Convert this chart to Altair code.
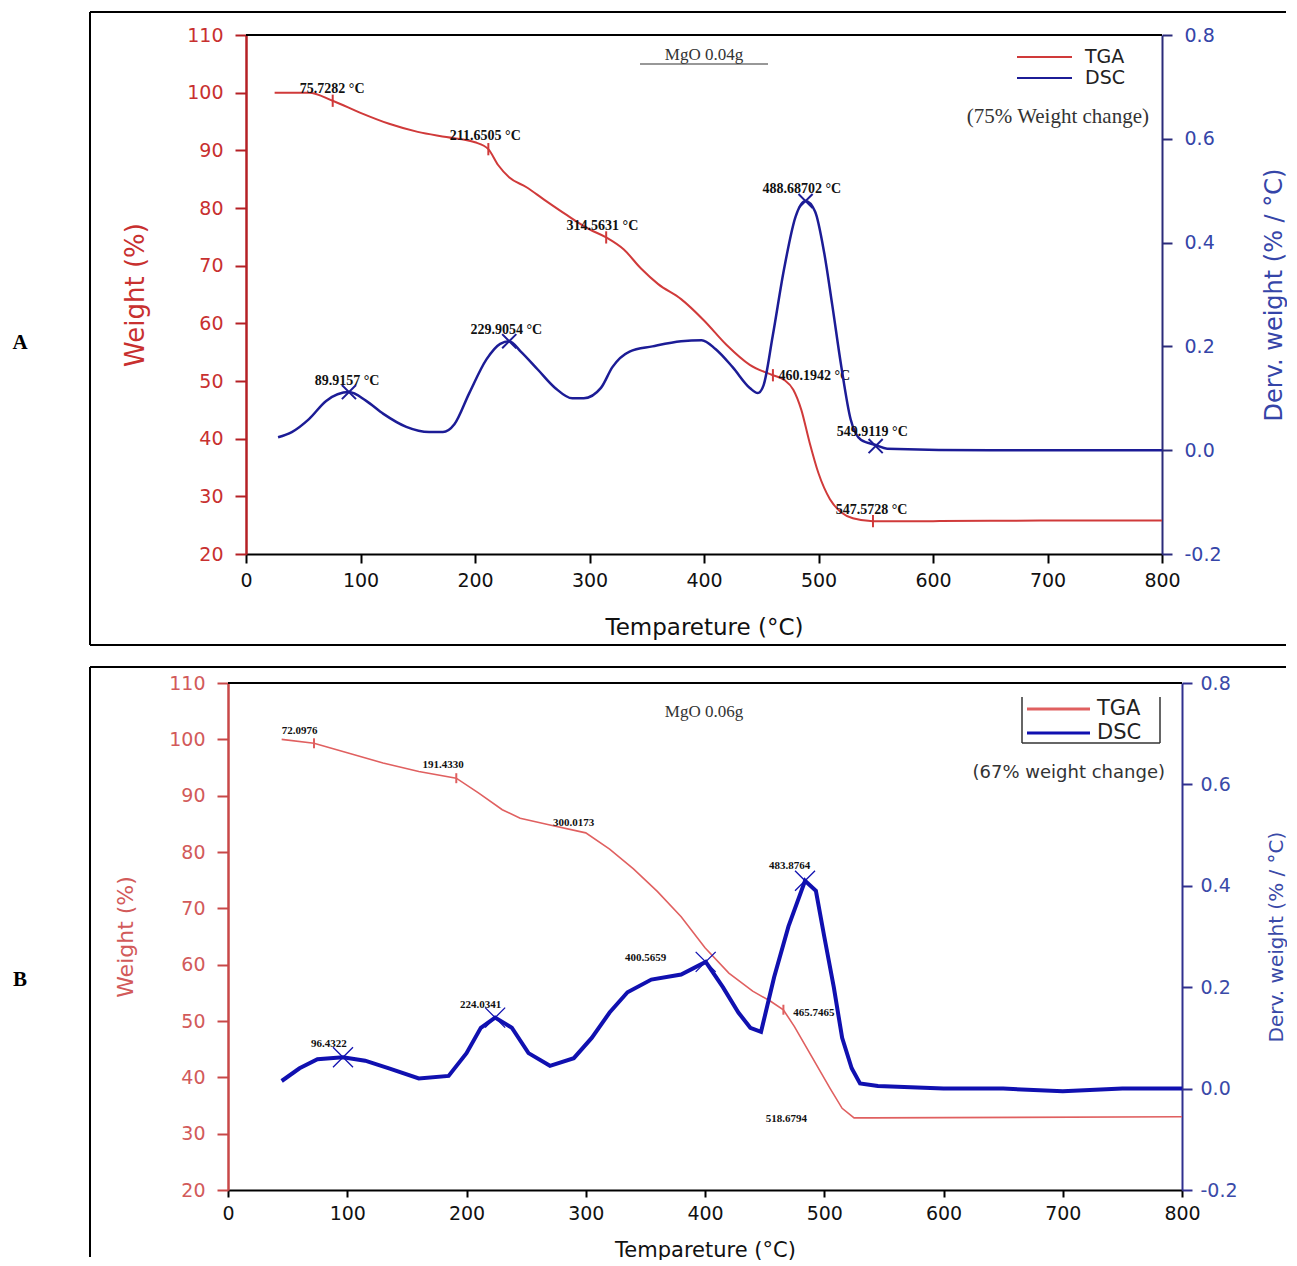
import altair as alt
import pandas as pd

# ---------------- Panel A : MgO 0.04 g ----------------
A_tga_T = [25, 55, 75.7, 100, 125, 150, 175, 200, 211.65, 220, 230, 245, 260, 280, 300, 314.56, 330, 345, 360, 380,
           400, 420, 440, 460.19, 470, 478, 485, 492, 500, 510, 520, 530, 547.57, 600, 700, 800]
A_tga_W = [100, 100, 98.6, 96.5, 94.6, 93.2, 92.3, 91.4, 90.2, 87.5, 85.3, 83.6, 81.5, 78.8, 76.3, 74.9, 72.8, 69.5, 66.8, 64.2,
           60.5, 56.2, 52.8, 51.0, 50.2, 48.5, 45.0, 39.5, 34.0, 29.5, 27.2, 26.2, 25.7, 25.7, 25.8, 25.8]
A_dsc_T = [28, 40, 55, 70, 89.9, 105, 120, 140, 160, 172, 182, 195, 210, 222, 229.9, 240, 255, 270, 285, 295,
           310, 320, 335, 355, 380, 398, 410, 425, 440, 447, 452, 460, 470, 480, 488.7, 497, 505, 512, 520, 528,
           537, 549.9, 560, 650, 800]
A_dsc_D = [0.025, 0.035, 0.06, 0.095, 0.112, 0.095, 0.07, 0.045, 0.035, 0.035, 0.05, 0.11, 0.175, 0.205, 0.21, 0.19, 0.155, 0.12, 0.1, 0.1,
           0.12, 0.16, 0.19, 0.2, 0.21, 0.212, 0.195, 0.16, 0.12, 0.11, 0.125, 0.22, 0.35, 0.45, 0.48, 0.46, 0.38, 0.28, 0.16, 0.06,
           0.02, 0.01, 0.003, 0.0, 0.0]
A_tga_mark_T = [75.7282, 211.6505, 314.5631, 460.1942, 547.5728]
A_tga_mark_W = [98.6, 90.2, 74.9, 51.0, 25.7]
A_dsc_mark_T = [89.9157, 229.9054, 488.68702, 549.9119]
A_dsc_mark_D = [0.112, 0.21, 0.48, 0.008]
A_tga_lab = ["75.7282 °C", "211.6505 °C", "314.5631 °C", "460.1942 °C", "547.5728 °C"]
A_tga_lab_T = [47, 178, 280, 465, 515]
A_tga_lab_W = [100.6, 92.5, 76.9, 50.9, 27.6]
A_dsc_lab = ["89.9157 °C", "229.9054 °C", "488.68702 °C", "549.9119 °C"]
A_dsc_lab_T = [60, 196, 451, 516]
A_dsc_lab_D = [0.133, 0.232, 0.503, 0.035]

# ---------------- Panel B : MgO 0.06 g ----------------
B_tga_T = [45, 72.1, 100, 130, 160, 191.4, 210, 230, 245, 270, 300, 320, 340, 360, 380, 400, 420, 440, 455, 465.7,
           475, 490, 505, 515, 525, 540, 800]
B_tga_W = [100, 99.3, 97.6, 95.8, 94.3, 93.1, 90.5, 87.5, 86, 84.8, 83.4, 80.5, 77, 73, 68.5, 63, 58.5, 55.3, 53.5, 52,
           49, 43.5, 38, 34.5, 32.8, 32.8, 33]
B_dsc_T = [45, 60, 75, 96.4, 115, 135, 160, 185, 200, 212, 224, 238, 252, 270, 290, 305, 320, 335, 355, 380,
           400.6, 415, 428, 438, 447, 458, 470, 483.9, 493, 500, 508, 515, 523, 530, 545, 600, 650, 700, 750, 800]
B_dsc_D = [0.015, 0.04, 0.058, 0.062, 0.055, 0.04, 0.02, 0.025, 0.07, 0.12, 0.14, 0.12, 0.07, 0.045, 0.06, 0.1, 0.15, 0.19, 0.215, 0.225,
           0.25, 0.2, 0.15, 0.12, 0.112, 0.22, 0.32, 0.41, 0.39, 0.3, 0.2, 0.1, 0.04, 0.01, 0.005, 0.0, 0.0, -0.005, 0.0, 0.0]
B_tga_mark_T = [72.0976, 191.4330, 465.7465]
B_tga_mark_W = [99.3, 93.1, 52.0]
B_dsc_mark_T = [96.4322, 224.0341, 400.5659, 483.8764]
B_dsc_mark_D = [0.062, 0.14, 0.25, 0.41]
B_tga_lab = ["72.0976", "191.4330", "300.0173", "465.7465", "518.6794"]
B_tga_lab_T = [45, 163, 272.5, 474, 451]
B_tga_lab_W = [101.5, 95.4, 85.1, 51.4, 32.6]
B_dsc_lab = ["96.4322", "224.0341", "400.5659", "483.8764"]
B_dsc_lab_T = [69.6, 194.5, 333, 453.7]
B_dsc_lab_D = [0.088, 0.165, 0.258, 0.439]

X_TICKS = [0, 100, 200, 300, 400, 500, 600, 700, 800]
W_TICKS = [20, 30, 40, 50, 60, 70, 80, 90, 100, 110]
D_TICKS = [-0.2, 0.0, 0.2, 0.4, 0.6, 0.8]

SANS = "DejaVu Sans"
SERIF = "Liberation Serif"
ONE = pd.DataFrame({"k": [0]})
TICK = "M0,-1L0,1"
CROSS = "M-1,-1L1,1M-1,1L1,-1"


def hrule(x1, x2, y, color="black", w=2):
    return alt.Chart(ONE).mark_rule(color=color, strokeWidth=w, clip=False).encode(
        x=alt.value(x1), x2=alt.value(x2), y=alt.value(y))


def vrule(x, y1, y2, color="black", w=2):
    return alt.Chart(ONE).mark_rule(color=color, strokeWidth=w, clip=False).encode(
        x=alt.value(x), y=alt.value(y1), y2=alt.value(y2))


def txt(text, x, y, size, font=SANS, align="left", weight="normal", color="black", angle=0):
    return alt.Chart(ONE).mark_text(text=text, fontSize=size, font=font, align=align, baseline="middle",
                                    fontWeight=weight, color=color, angle=angle, clip=False).encode(
        x=alt.value(x), y=alt.value(y))


def panel(p):
    X = alt.X("T:Q", scale=alt.Scale(domain=[0, 800], range=p["xrange"], nice=False, zero=False),
              axis=alt.Axis(values=X_TICKS, grid=False, domainColor="black", domainWidth=2, tickColor="black",
                            tickWidth=2, tickSize=p["xtick"], labelPadding=p["xpad"], labelFont=SANS,
                            labelFontSize=19, labelColor="#111111", labelFlush=False, labelOverlap=False,
                            title="Tempareture (°C)", titleFont=SANS, titleFontSize=p["xtitle_size"],
                            titleFontWeight="normal", titleColor="#111111", titleX=p["xtitle_x"],
                            titleY=p["xtitle_y"], titleBaseline="middle", titleAlign="center"))
    YW = alt.Y("W:Q", scale=alt.Scale(domain=[20, 110], nice=False, zero=False),
               axis=alt.Axis(orient="left", values=W_TICKS, grid=False, offset=p["loffset"],
                             domainColor=p["laxis"], domainWidth=2.5, tickColor=p["laxis"], tickWidth=2,
                             tickSize=11, labelPadding=p["lpad"], labelFont=SANS, labelFontSize=19,
                             labelColor=p["llab"], labelFlush=False, labelOverlap=False,
                             title="Weight (%)", titleFont=SANS, titleFontSize=p["ltitle_size"],
                             titleFontWeight="normal", titleColor=p["llab"], titleAngle=-90,
                             titleX=p["ltitle_x"], titleY=p["h"] / 2, titleBaseline="middle",
                             titleAlign="center"))
    YD = alt.Y("D:Q", scale=alt.Scale(domain=[-0.2, 0.8], nice=False, zero=False),
               axis=alt.Axis(orient="right", values=D_TICKS, grid=False,
                             labelExpr="replace(format(datum.value, '.1f'), '\u2212', '-')",
                             domainColor=p["raxis"], domainWidth=2, tickColor=p["raxis"], tickWidth=2,
                             tickSize=10, labelPadding=p["rpad"], labelFont=SANS, labelFontSize=19,
                             labelColor=p["rlab"], labelFlush=False, labelOverlap=False,
                             title="Derv. weight (% / °C)", titleFont=SANS, titleFontSize=p["rtitle_size"],
                             titleFontWeight="normal", titleColor=p["rlab"], titleAngle=-90,
                             titleX=p["rtitle_x"], titleY=p["h"] / 2, titleBaseline="middle",
                             titleAlign="center"))

    tga = pd.DataFrame({"T": p["tga_T"], "W": p["tga_W"]})
    dsc = pd.DataFrame({"T": p["dsc_T"], "D": p["dsc_D"]})
    tmk = pd.DataFrame({"T": p["tmk_T"], "W": p["tmk_W"]})
    dmk = pd.DataFrame({"T": p["dmk_T"], "D": p["dmk_D"]})
    tlb = pd.DataFrame({"T": p["tlb_T"], "W": p["tlb_W"], "label": p["tlb"]})
    dlb = pd.DataFrame({"T": p["dlb_T"], "D": p["dlb_D"], "label": p["dlb"]})

    tga_group = alt.layer(
        alt.Chart(tga).mark_line(color=p["tga_color"], strokeWidth=p["tga_w"], interpolate=p["interp"]).encode(x=X, y=YW),
        alt.Chart(tmk).mark_point(shape=TICK, size=p["tick_size"], stroke=p["tga_color"], strokeWidth=2,
                                  filled=False, opacity=1).encode(x=X, y=YW),
        alt.Chart(tlb).mark_text(font=SERIF, fontWeight="bold", fontSize=p["lab_size"], align="left",
                                 baseline="middle", color="#111111").encode(x=X, y=YW, text="label:N"),
    )
    dsc_group = alt.layer(
        alt.Chart(dsc).mark_line(color=p["dsc_color"], strokeWidth=p["dsc_w"], interpolate=p["interp"]).encode(x=X, y=YD),
        alt.Chart(dmk).mark_point(shape=CROSS, size=p["cross_size"], stroke=p["dsc_color"], strokeWidth=p["cross_w"],
                                  filled=False, opacity=1).encode(x=X, y=YD),
        alt.Chart(dlb).mark_text(font=SERIF, fontWeight="bold", fontSize=p["lab_size"], align="left",
                                 baseline="middle", color="#111111").encode(x=X, y=YD, text="label:N"),
    )
    return alt.layer(tga_group, dsc_group, *p["decor"]).resolve_scale(y="independent").properties(
        width=p["w"], height=p["h"])


A_decor = [
    alt.Chart(ONE).mark_rect(color="white", clip=False).encode(
        x=alt.value(-238), x2=alt.value(-237), y=alt.value(-27), y2=alt.value(-26)),
    hrule(0, 916, 0, "black", 2),
    vrule(-156, -23, 610), hrule(-156, 1040, -23), hrule(-156, 1040, 610),
    txt("A", -226, 308, 21, SERIF, "center", "bold"),
    txt("MgO 0.04g", 458, 20, 17, SERIF, "center", "normal", "#333333"),
    hrule(394, 522, 29, "#333333", 1.2),
    txt("(75% Weight change)", 903, 82, 21, SERIF, "right", "normal", "#333333"),
    hrule(771, 826, 22, "#d03a3a", 2), txt("TGA", 839, 22, 19, SANS, "left", "normal", "#222222"),
    hrule(771, 826, 43, "#1c1c96", 2), txt("DSC", 839, 43, 19, SANS, "left", "normal", "#222222"),
]

B_decor = [
    hrule(-18, 936, 0, "black", 2),
    vrule(-156, -16, 574), hrule(-156, 1040, -16),
    txt("B", -226, 297, 21, SERIF, "center", "bold"),
    txt("MgO 0.06g", 458, 29, 17, SERIF, "center", "normal", "#333333"),
    txt("(67% weight change)", 919, 90, 18, SANS, "right", "normal", "#333333"),
    vrule(776, 14, 60, "#333333", 1.5), vrule(914, 14, 60, "#333333", 1.5), hrule(776, 914, 60, "#333333", 1.5),
    hrule(781, 844, 26, "#e06060", 3), txt("TGA", 851, 26, 21, SANS, "left", "normal", "#222222"),
    hrule(781, 844, 50, "#1010b0", 3), txt("DSC", 851, 50, 21, SANS, "left", "normal", "#222222"),
]

pA = dict(w=916, h=519, xrange=[0, 916], xtick=9, xpad=8, xtitle_size=23, xtitle_x=458, xtitle_y=73,
          loffset=0, laxis="#b52025", llab="#c8302f", lpad=12, ltitle_size=26, ltitle_x=-111,
          raxis="#2b2b7a", rlab="#3545a8", rpad=12, rtitle_size=24, rtitle_x=112,
          tga_T=A_tga_T, tga_W=A_tga_W, dsc_T=A_dsc_T, dsc_D=A_dsc_D,
          tmk_T=A_tga_mark_T, tmk_W=A_tga_mark_W, dmk_T=A_dsc_mark_T, dmk_D=A_dsc_mark_D,
          tlb=A_tga_lab, tlb_T=A_tga_lab_T, tlb_W=A_tga_lab_W, dlb=A_dsc_lab, dlb_T=A_dsc_lab_T, dlb_D=A_dsc_lab_D,
          tga_color="#d03a3a", tga_w=2, dsc_color="#1c1c96", dsc_w=2.5, interp="monotone",
          tick_size=150, cross_size=200, cross_w=2, lab_size=14, decor=A_decor)

pB = dict(w=936, h=507, xrange=[-18, 936], xtick=7, xpad=7, xtitle_size=21, xtitle_x=459, xtitle_y=60,
          loffset=18, laxis="#c84848", llab="#d25a5a", lpad=12, ltitle_size=22, ltitle_x=-103,
          raxis="#30308f", rlab="#3a4aa8", rpad=8, rtitle_size=20, rtitle_x=94,
          tga_T=B_tga_T, tga_W=B_tga_W, dsc_T=B_dsc_T, dsc_D=B_dsc_D,
          tmk_T=B_tga_mark_T, tmk_W=B_tga_mark_W, dmk_T=B_dsc_mark_T, dmk_D=B_dsc_mark_D,
          tlb=B_tga_lab, tlb_T=B_tga_lab_T, tlb_W=B_tga_lab_W, dlb=B_dsc_lab, dlb_T=B_dsc_lab_T, dlb_D=B_dsc_lab_D,
          tga_color="#e06060", tga_w=1.6, dsc_color="#1010b0", dsc_w=4, interp="linear",
          tick_size=100, cross_size=400, cross_w=1.3, lab_size=11, decor=B_decor)

chart = alt.vconcat(panel(pA), panel(pB), spacing=129, bounds="flush").resolve_scale(
    x="independent", y="independent").properties(padding=0).configure_view(stroke=None)

chart.save("out.html", embed_options={"renderer": "svg", "actions": False})
